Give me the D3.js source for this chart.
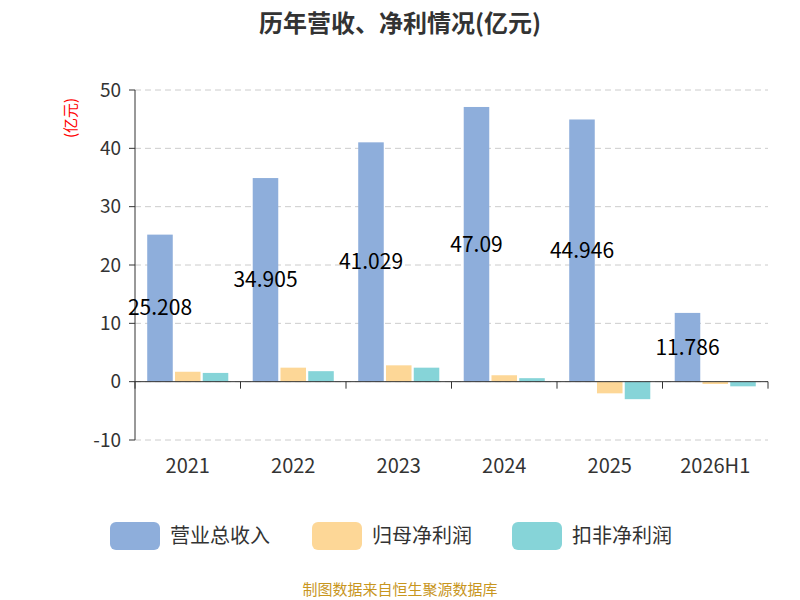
<!DOCTYPE html>
<html lang="zh">
<head>
<meta charset="UTF-8">
<script src="https://d3js.org/d3.v7.min.js"></script>
<style>
  body { margin: 0; background: #fff; font-family: "Noto Sans CJK SC", "Noto Sans", sans-serif; }
</style>
</head>
<body>
<script>
const years = ["2021", "2022", "2023", "2024", "2025", "2026H1"];
const seriesNames = ["营业总收入", "归母净利润", "扣非净利润"];
const revenue = [25.208, 34.905, 41.029, 47.09, 44.946, 11.786];
const netProfit = [1.7, 2.4, 2.8, 1.1, -2.0, -0.4];
const deducted = [1.5, 1.8, 2.4, 0.6, -3.0, -0.8];
const colors = ["#8eaedb", "#fdd797", "#86d4d8"];
const yTicks = [-10, 0, 10, 20, 30, 40, 50];

const width = 800, height = 600;
const plotL = 135, plotR = 768, plotT = 90, plotB = 440;

const svg = d3.select("body").append("svg")
    .attr("width", width).attr("height", height);

svg.append("text").attr("x", 400).attr("y", 32)
    .attr("text-anchor", "middle").attr("font-size", 24).attr("font-weight", "bold")
    .attr("fill", "#333").text("历年营收、净利情况(亿元)");

const x = d3.scaleBand().domain(years).range([plotL, plotR]);
const inner = d3.scaleBand().domain(d3.range(3)).range([10, x.bandwidth() - 10]).padding(0.08);
const y = d3.scaleLinear().domain([-10, 50]).range([plotB, plotT]);

// grid
svg.selectAll("line.grid").data(yTicks).enter().append("line")
    .attr("x1", plotL).attr("x2", plotR)
    .attr("y1", d => y(d)).attr("y2", d => y(d))
    .attr("stroke", "#ccc").attr("stroke-dasharray", "6,4");

// y axis
svg.append("line").attr("x1", plotL).attr("x2", plotL).attr("y1", plotT).attr("y2", plotB)
    .attr("stroke", "#333");
svg.selectAll("text.yt").data(yTicks).enter().append("text")
    .attr("x", plotL - 14).attr("y", d => y(d)).attr("dy", "0.35em")
    .attr("text-anchor", "end").attr("font-size", 19).attr("fill", "#333").text(d => d);
svg.selectAll("line.ytick").data(yTicks).enter().append("line")
    .attr("x1", plotL - 6).attr("x2", plotL).attr("y1", d => y(d)).attr("y2", d => y(d))
    .attr("stroke", "#333");

svg.append("text").attr("transform", `translate(76,118) rotate(-90)`)
    .attr("text-anchor", "middle").attr("font-size", 15).attr("fill", "red").text("(亿元)");

// bars
const data = [revenue, netProfit, deducted];
data.forEach((vals, s) => {
  svg.selectAll("rect.s" + s).data(vals).enter().append("rect")
      .attr("x", (d, i) => x(years[i]) + inner(s))
      .attr("width", inner.bandwidth())
      .attr("y", d => y(Math.max(0, d)))
      .attr("height", d => Math.abs(y(d) - y(0)))
      .attr("fill", colors[s]);
});

// x axis at zero
svg.append("line").attr("x1", plotL).attr("x2", plotR).attr("y1", y(0)).attr("y2", y(0))
    .attr("stroke", "#333");
svg.selectAll("line.xtick").data(d3.range(years.length + 1)).enter().append("line")
    .attr("x1", i => plotL + i * x.step()).attr("x2", i => plotL + i * x.step())
    .attr("y1", y(0)).attr("y2", y(0) + 7).attr("stroke", "#333");
svg.selectAll("text.xl").data(years).enter().append("text")
    .attr("x", d => x(d) + x.bandwidth() / 2).attr("y", 473)
    .attr("text-anchor", "middle").attr("font-size", 20).attr("fill", "#333").text(d => d);

// revenue labels
svg.selectAll("text.lbl").data(revenue).enter().append("text")
    .attr("x", (d, i) => x(years[i]) + inner(0) + inner.bandwidth() / 2)
    .attr("y", d => y(d / 2)).attr("dy", "0.35em")
    .attr("text-anchor", "middle").attr("font-size", 21).attr("fill", "#000").text(d => d);

// legend
const lx = [110, 312, 512];
seriesNames.forEach((n, i) => {
  svg.append("rect").attr("x", lx[i]).attr("y", 522).attr("width", 50).attr("height", 28)
      .attr("rx", 6).attr("fill", colors[i]);
  svg.append("text").attr("x", lx[i] + 60).attr("y", 536).attr("dy", "0.35em")
      .attr("font-size", 20).attr("fill", "#333").text(n);
});

svg.append("text").attr("x", 400).attr("y", 595).attr("text-anchor", "middle")
    .attr("font-size", 15).attr("fill", "#c8961e").text("制图数据来自恒生聚源数据库");
</script>
</body>
</html>
